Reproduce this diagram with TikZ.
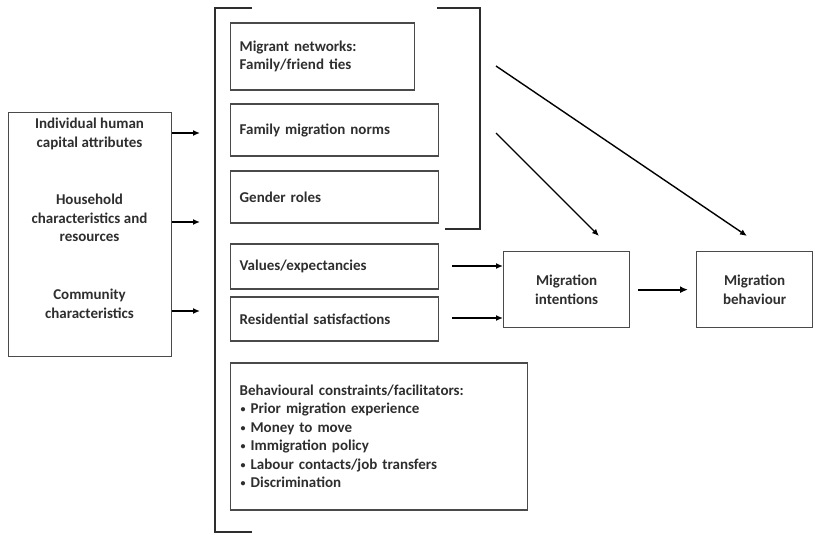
\documentclass[tikz,border=0pt]{standalone}
\usepackage{fontspec}
\setmainfont{Carlito}
\usetikzlibrary{arrows.meta}
\definecolor{ink}{HTML}{2E2E2E}
\definecolor{frame}{HTML}{4A4A4A}
\newcommand{\itemdot}{\hspace*{1pt}\raisebox{1.2pt}{\fontsize{10}{10}\selectfont\textbullet}\hspace{5pt}}
\begin{document}
\begin{tikzpicture}[x=1pt,y=-1pt,
  every node/.style={font=\fontsize{15}{18.5}\selectfont\bfseries, text=ink},
  box/.style={draw=frame, line width=1.3pt, inner sep=0pt, minimum width=#1},
  lbox/.style={box=#1, inner xsep=9pt, text width=#1-18pt, align=left, anchor=west},
  cbox/.style={box=#1, align=center},
  brk/.style={draw=ink, line width=1.8pt},
  arr/.style={draw=black, line width=1.4pt, -{Latex[length=7pt,width=6pt]}},
  thickarr/.style={draw=black, line width=2pt, -{Latex[length=8pt,width=7pt]}}]
\useasboundingbox (0,0) rectangle (815,535);

% determinants on the left
\node[cbox=163pt, minimum height=244pt, anchor=north west] (det) at (8,112) {};
\node[align=center] (ind) at (89.5,134) {Individual human\\capital attributes};
\node[align=center] (hh) at (89.5,218) {Household\\characteristics and\\resources};
\node[align=center] (com) at (89.5,304) {Community\\characteristics};

% bracket grouping the mediating factors
\draw[brk] (252,8) -- (215,8) -- (215,532) -- (252,532);
\draw[brk] (437,8) -- (480,8) -- (480,229) -- (445,229);

% mediating factors
\node[lbox=184pt, minimum height=67pt] (net) at (230,56.5) {Migrant networks:\\Family/friend ties};
\node[lbox=208pt, minimum height=52pt] (norms) at (230,130) {Family migration norms};
\node[lbox=208pt, minimum height=52pt] (gender) at (230,197) {Gender roles};
\node[lbox=208pt, minimum height=45pt] (values) at (230,266.5) {Values/expectancies};
\node[lbox=208pt, minimum height=44pt] (resid) at (230,319) {Residential satisfactions};
\node[lbox=297pt, minimum height=147pt] (constr) at (230,436.5) {Behavioural constraints/facilitators:\\
  \itemdot Prior migration experience\\
  \itemdot Money to move\\
  \itemdot Immigration policy\\
  \itemdot Labour contacts/job transfers\\
  \itemdot Discrimination};

% outcomes
\node[cbox=126pt, minimum height=76pt, anchor=north west] (int) at (503,251) {Migration\\intentions};
\node[cbox=116pt, minimum height=76pt, anchor=north west] (beh) at (696,251) {Migration\\behaviour};

% arrow end points
\coordinate (a1) at (200,133);
\coordinate (a2) at (200,222);
\coordinate (a3) at (200,311);
\coordinate (d1s) at (496,66);
\coordinate (d1e) at (747,236);
\coordinate (d2s) at (496,133);
\coordinate (d2e) at (599,236);
\coordinate (v1) at (452,266);
\coordinate (r1) at (452,318);

\draw[arr] (det.east |- a1) -- (a1);
\draw[arr] (det.east |- a2) -- (a2);
\draw[arr] (det.east |- a3) -- (a3);
\draw[arr] (d1s) -- (d1e);
\draw[arr] (d2s) -- (d2e);
\draw[arr] (v1) -- (int.west |- v1);
\draw[arr] (r1) -- (int.west |- r1);
\draw[thickarr] ([xshift=8pt]int.east) -- ([xshift=-8pt]beh.west);
\end{tikzpicture}
\end{document}
